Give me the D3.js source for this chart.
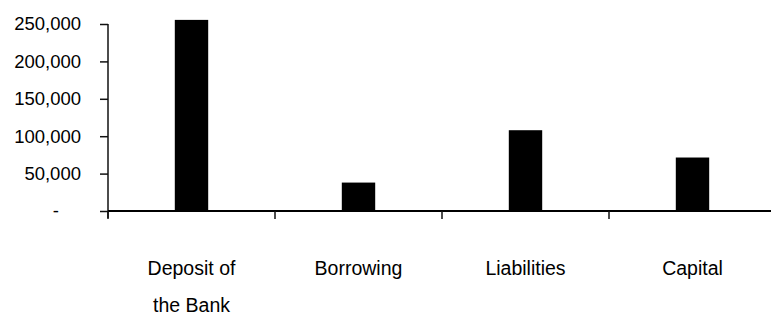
<!DOCTYPE html>
<html>
<head>
<meta charset="utf-8">
<script src="https://cdn.jsdelivr.net/npm/d3@7"></script>
<style>
  body { margin: 0; background: #fff; }
  text { font-family: "Liberation Sans", Arial, sans-serif; fill: #000; }
</style>
</head>
<body>
<div id="chart"></div>
<script>
// data
var categories = ['Deposit of the Bank', 'Borrowing', 'Liabilities', 'Capital'];
var labelLines = [['Deposit of', 'the Bank'], ['Borrowing'], ['Liabilities'], ['Capital']];
var values = [255500, 38000, 108000, 71500];
var yTicks = [0, 50000, 100000, 150000, 200000, 250000];

var width = 771, height = 324;
var svg = d3.select('#chart').append('svg')
  .attr('width', width)
  .attr('height', height);

var x = d3.scaleBand()
  .domain(categories)
  .range([108, 776])
  .padding(0);

var y = d3.scaleLinear()
  .domain([0, 250000])
  .range([211, 24]);

// y axis
var fmt = d3.format(',');
var yAxis = d3.axisLeft(y)
  .tickValues(yTicks)
  .tickSize(8)
  .tickSizeOuter(0)
  .tickPadding(19)
  .tickFormat(function (d) { return d === 0 ? '-' : fmt(d); });

var gy = svg.append('g')
  .attr('transform', 'translate(108,0)')
  .call(yAxis);
gy.select('.domain').remove();
gy.selectAll('.tick line').attr('stroke', '#111').attr('stroke-width', 1.5);
gy.selectAll('.tick text')
  .style('font-size', '18.5px')
  .attr('dx', function (d) { return d === 0 ? -22 : 0; });

// vertical axis line, running a little below the baseline
svg.append('line')
  .attr('x1', 108).attr('x2', 108)
  .attr('y1', y(250000)).attr('y2', y(0) + 7)
  .attr('stroke', '#111').attr('stroke-width', 1.5);

// bars
var barW = x.bandwidth() * 0.2;
svg.selectAll('.bar')
  .data(values)
  .enter()
  .append('rect')
  .attr('class', 'bar')
  .attr('x', function (d, i) { return x(categories[i]) + x.bandwidth() / 2 - barW / 2; })
  .attr('y', function (d) { return y(d); })
  .attr('width', barW)
  .attr('height', function (d) { return y(0) - y(d); })
  .attr('fill', '#000');

// baseline and category ticks at band edges
svg.append('line')
  .attr('x1', 108).attr('x2', width)
  .attr('y1', y(0)).attr('y2', y(0))
  .attr('stroke', '#000').attr('stroke-width', 2);

svg.selectAll('.xtick')
  .data(categories)
  .enter()
  .append('line')
  .attr('class', 'xtick')
  .attr('x1', function (d) { return x(d); })
  .attr('x2', function (d) { return x(d); })
  .attr('y1', y(0))
  .attr('y2', y(0) + 8)
  .attr('stroke', '#111')
  .attr('stroke-width', 1.5);

// category labels
var labels = svg.selectAll('.cat')
  .data(categories)
  .enter()
  .append('text')
  .attr('class', 'cat')
  .attr('text-anchor', 'middle')
  .style('font-size', '19.5px');

labels.each(function (d, i) {
  var t = d3.select(this);
  labelLines[i].forEach(function (line, j) {
    t.append('tspan')
      .attr('x', x(d) + x.bandwidth() / 2)
      .attr('y', 275 + j * 37)
      .text(line);
  });
});
</script>
</body>
</html>
